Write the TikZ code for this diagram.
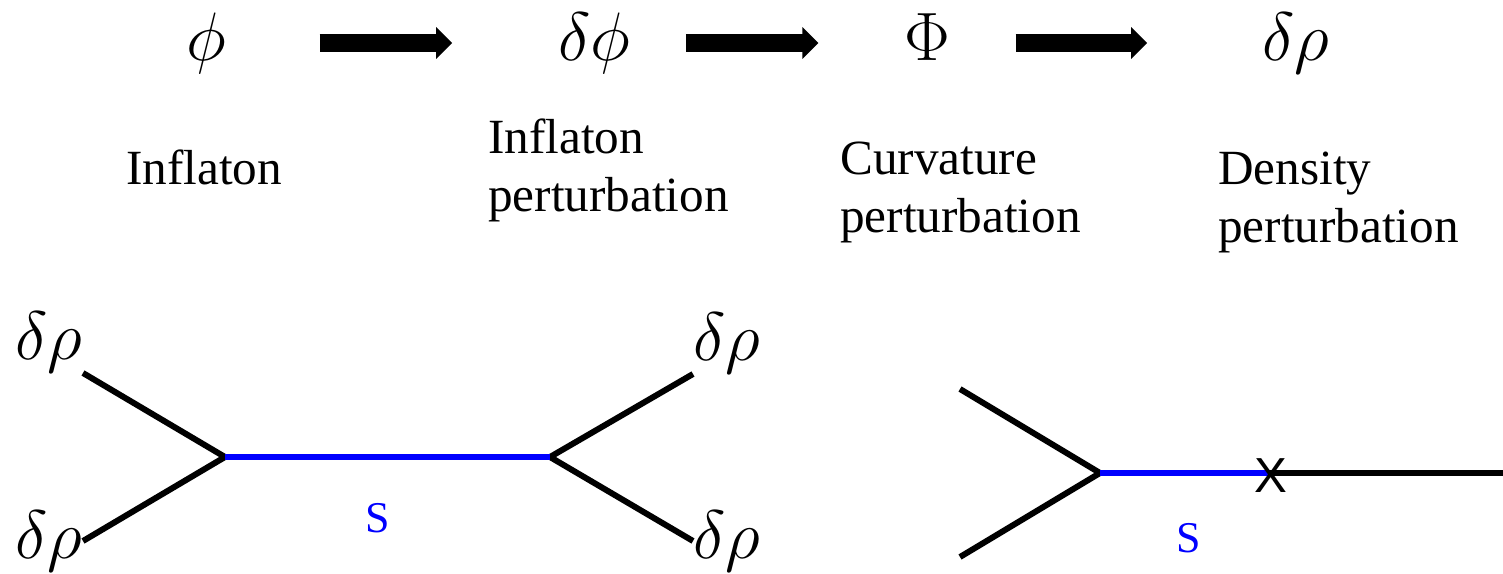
\RequirePackage{fix-cm}
\documentclass[tikz,border=0pt]{standalone}
\usepackage{fontspec}
\setmainfont{Liberation Serif}
\newfontfamily\crossfont{Liberation Sans}
\usetikzlibrary{arrows.meta,positioning}

\begin{document}
\begin{tikzpicture}[
    x=0.02cm, y=-0.02cm,
    field/.style={inner sep=0pt, font=\fontsize{39}{43}\selectfont, text height=27pt, text depth=7.6pt},
    desc/.style={inner sep=0pt, align=left, font=\fontsize{28}{33}\selectfont},
    bigarrow/.style={line width=0.36cm, -{Triangle[width=0.62cm, length=0.32cm]}},
    leg/.style={line width=3.4pt, line join=miter},
    prop/.style={line width=3.4pt, blue},
    tag/.style={inner sep=0pt, text=blue, font=\fontsize{25}{28}\selectfont}
  ]
    \useasboundingbox (0,0) rectangle (1503,574);

    % chain phi -> delta phi -> Phi -> delta rho
    \node[field] (phi) at (206,43) {$\phi$};
    \node[field] (dphi) at (594,43) {$\delta\phi$};
    \node[field] (Phi) at (927,43) {$\Phi$};
    \node[field] (drho) at (1296,43) {$\delta\rho$};

    \draw[bigarrow, shorten <=1.87cm, shorten >=2.11cm] (phi) -- (dphi);
    \draw[bigarrow, shorten <=1.11cm, shorten >=1.71cm] (dphi) -- (Phi);
    \draw[bigarrow, shorten <=1.31cm, shorten >=2.30cm] (Phi) -- (drho);

    \node[desc, anchor=base] (infl) at (204,185) {Inflaton};
    \node[desc, anchor=north west] (inflpert) at (488,119) {Inflaton\\perturbation};
    \node[desc, anchor=north west] (curvpert) at (840,142) {Curvature\\perturbation};
    \node[desc, anchor=north west] (denspert) at (1218,152) {Density\\perturbation};

    % exchange diagram
    \coordinate (vl) at (225,457);
    \coordinate (vr) at (550,457);
    \node[field, anchor=south east] (tl) at (83,373) {$\delta\rho$};
    \node[field, anchor=east] (bl) at (83,541) {$\delta\rho$};
    \node[field, anchor=south west] (tr) at (693,374) {$\delta\rho$};
    \node[field, anchor=west] (br) at (693,541) {$\delta\rho$};

    \draw[leg] (tl.south east) -- (vl) -- (bl.east);
    \draw[leg] (tr.south west) -- (vr) -- (br.west);
    \draw[prop] (vl) -- (vr);
    \node[tag] (sl) at (378,518) {S};

    % decaying s
    \coordinate (v2) at (1100,473);
    \coordinate (up2) at (960,389);
    \coordinate (lo2) at (960,557);
    \coordinate (cross) at (1269,473);
    \coordinate (rend) at (1503,473);
    \draw[leg] (up2) -- (v2) -- (lo2);
    \draw[prop] (v2) -- (cross);
    \draw[line width=3.4pt] (cross) -- (rend);
    \node[inner sep=0pt, font=\crossfont\fontsize{28}{30}\selectfont] (xm) at (1271,476) {X};
    \node[tag] (sr) at (1189,538) {S};
  \end{tikzpicture}
\end{document}
